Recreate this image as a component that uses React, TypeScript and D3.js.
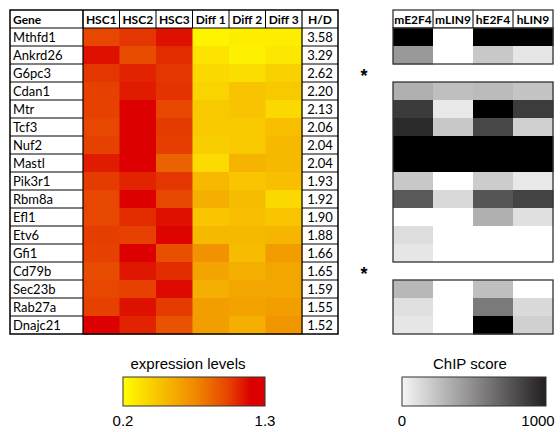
import React from "react";
import * as d3 from "d3";

const genes = ["Mthfd1","Ankrd26","G6pc3","Cdan1","Mtr","Tcf3","Nuf2","Mastl","Pik3r1","Rbm8a","Efl1","Etv6","Gfi1","Cd79b","Sec23b","Rab27a","Dnajc21"];
const exprCols = ["HSC1","HSC2","HSC3","Diff 1","Diff 2","Diff 3"];
const exprValues: number[][] = [
  [1.0, 1.05, 1.15, 0.25, 0.28, 0.28],
  [1.15, 0.98, 1.08, 0.33, 0.27, 0.31],
  [1.05, 1.1, 1.05, 0.38, 0.36, 0.42],
  [1.02, 1.12, 1.06, 0.4, 0.48, 0.45],
  [1.02, 1.3, 1.0, 0.45, 0.48, 0.38],
  [1.0, 1.25, 1.04, 0.45, 0.45, 0.5],
  [1.02, 1.27, 1.03, 0.43, 0.45, 0.53],
  [1.12, 1.3, 0.9, 0.37, 0.56, 0.53],
  [1.04, 1.1, 1.05, 0.53, 0.47, 0.5],
  [1.0, 1.3, 1.0, 0.58, 0.51, 0.38],
  [1.0, 1.08, 1.15, 0.47, 0.5, 0.47],
  [1.03, 1.02, 1.18, 0.53, 0.53, 0.55],
  [1.02, 1.2, 0.97, 0.72, 0.52, 0.67],
  [0.98, 1.13, 1.08, 0.63, 0.58, 0.62],
  [1.0, 1.02, 1.17, 0.58, 0.62, 0.62],
  [1.02, 1.15, 1.04, 0.66, 0.64, 0.66],
  [1.2, 1.1, 0.96, 0.66, 0.58, 0.7],
];
const hdRatios = ["3.58","3.29","2.62","2.20","2.13","2.06","2.04","2.04","1.93","1.92","1.90","1.88","1.66","1.65","1.59","1.55","1.52"];
const chipCols = ["mE2F4","mLIN9","hE2F4","hLIN9"];
const chipScores: (number[] | null)[] = [
  [1000, 0, 1000, 1000],
  [400, 0, 215, 100],
  null,
  [310, 250, 265, 230],
  [770, 90, 1000, 765],
  [835, 215, 720, 185],
  [1000, 1000, 1000, 1000],
  [1000, 1000, 1000, 1000],
  [215, 0, 200, 90],
  [650, 150, 665, 735],
  [0, 0, 310, 120],
  [135, 0, 0, 0],
  [100, 0, 0, 0],
  null,
  [280, 0, 250, 0],
  [120, 0, 520, 145],
  [100, 0, 1000, 185],
];
const exprDomain = [0.2, 1.3];
const chipDomain = [0, 1000];
const exprTickLabels = ["0.2", "1.3"];
const chipTickLabels = ["0", "1000"];

export default function App() {
  const tableFont = "Lato, 'Liberation Sans', sans-serif";
  const legendFont = "'Liberation Sans', Arial, sans-serif";
  const headerTop = 10, rowTop = 28, rowBottom = 334;
  const geneLeft = 10, geneRight = 83, heatRight = 302, hdRight = 338;
  const chipLeft = 393, chipRight = 553;

  const y = d3.scaleBand<string>().domain(genes).range([rowTop, rowBottom]);
  const x = d3.scaleBand<string>().domain(exprCols).range([geneRight, heatRight]);
  const xc = d3.scaleBand<string>().domain(chipCols).range([chipLeft, chipRight]);
  const [e0, e1] = exprDomain;
  const exprStops = [0, 0.25, 0.5, 0.75, 0.9, 1];
  const exprColors = ["#ffff00", "#f8c400", "#f08c00", "#e64000", "#dc0000", "#dc0000"];
  const exprColor = d3.scaleLinear<string>()
    .domain(exprStops.map((t) => e0 + t * (e1 - e0)))
    .range(exprColors)
    .clamp(true);
  const chipColor = d3.scaleLinear<string>().domain(chipDomain).range(["#ffffff", "#000000"]).clamp(true);

  const blocks: { start: number; end: number }[] = [];
  let cur: { start: number; end: number } | null = null;
  chipScores.forEach((r, i) => {
    if (r) {
      if (!cur) { cur = { start: i, end: i }; blocks.push(cur); } else cur.end = i;
    } else cur = null;
  });

  const bw = y.bandwidth();
  const legE = d3.scaleLinear().domain(exprDomain).range([123, 265]);
  const legC = d3.scaleLinear().domain(chipDomain).range([402, 546]);
  const hdrSize = 12;

  return (
    <div style={{ position: "absolute", left: 0, top: 0 }}>
      <svg width={560} height={432} style={{ display: "block", background: "#fff" }}>
        <defs>
          <linearGradient id="gE" x1="0" x2="1" y1="0" y2="0">
            {exprStops.map((t, i) => (
              <stop key={i} offset={t} stopColor={exprColors[i]} />
            ))}
          </linearGradient>
          <linearGradient id="gC" x1="0" x2="1" y1="0" y2="0">
            <stop offset={0} stopColor="#f6f6f6" />
            <stop offset={1} stopColor="#231f20" />
          </linearGradient>
        </defs>

        {genes.map((g, i) =>
          exprCols.map((c, j) => (
            <rect key={g + c} x={x(c)!} y={y(g)!} width={x.bandwidth() + 0.5} height={bw + 0.5}
              fill={exprColor(exprValues[i][j])} />
          ))
        )}

        <line x1={geneLeft} x2={hdRight} y1={rowTop} y2={rowTop} stroke="#000" strokeWidth={1} />
        <text x={geneLeft + 3} y={headerTop + 13.5} fontFamily={tableFont} fontWeight="bold" fontSize={hdrSize}>Gene</text>
        {exprCols.map((c) => (
          <g key={c}>
            <text x={x(c)! + x.bandwidth() / 2} y={headerTop + 13.5} textAnchor="middle"
              fontFamily={tableFont} fontWeight="bold" fontSize={hdrSize}>{c}</text>
            <line x1={x(c)!} x2={x(c)!} y1={headerTop} y2={rowTop} stroke="#000" strokeWidth={1} />
          </g>
        ))}
        <text x={(heatRight + hdRight) / 2} y={headerTop + 13.5} textAnchor="middle"
          fontFamily={tableFont} fontWeight="bold" fontSize={hdrSize}>H/D</text>

        {genes.map((g, i) => (
          <g key={g}>
            <text x={geneLeft + 3} y={y(g)! + 13.5} fontFamily={tableFont} fontSize={13}>{g}</text>
            <text x={(heatRight + hdRight) / 2} y={y(g)! + 13.5} textAnchor="middle" fontFamily={tableFont} fontSize={13}>{hdRatios[i]}</text>
            {i > 0 && (
              <>
                <line x1={geneLeft} x2={geneRight} y1={y(g)!} y2={y(g)!} stroke="#000" strokeWidth={1} />
                <line x1={heatRight} x2={hdRight} y1={y(g)!} y2={y(g)!} stroke="#000" strokeWidth={1} />
              </>
            )}
          </g>
        ))}
        <line x1={geneRight} x2={geneRight} y1={headerTop} y2={rowBottom} stroke="#000" strokeWidth={1.2} />
        <line x1={heatRight} x2={heatRight} y1={headerTop} y2={rowBottom} stroke="#000" strokeWidth={1.2} />
        <rect x={geneLeft} y={headerTop} width={hdRight - geneLeft} height={rowBottom - headerTop}
          fill="none" stroke="#000" strokeWidth={1.5} />

        {chipCols.map((c, j) => (
          <g key={c}>
            <text x={xc(c)! + xc.bandwidth() / 2} y={headerTop + 13.5} textAnchor="middle"
              fontFamily={tableFont} fontWeight="bold" fontSize={hdrSize}>{c}</text>
            {j > 0 && <line x1={xc(c)!} x2={xc(c)!} y1={headerTop} y2={rowTop} stroke="#000" strokeWidth={1} />}
          </g>
        ))}
        <rect x={chipLeft} y={headerTop} width={chipRight - chipLeft} height={rowTop - headerTop}
          fill="none" stroke="#333" strokeWidth={1.3} />

        {genes.map((g, i) => {
          const r = chipScores[i];
          if (!r) {
            return (
              <text key={g} x={364} y={y(g)! + 18} textAnchor="middle" fontFamily={legendFont} fontWeight="bold" fontSize={18}>*</text>
            );
          }
          return chipCols.map((c, j) => (
            <rect key={g + c} x={xc(c)!} y={y(g)!} width={xc.bandwidth() + 0.5} height={bw + 0.5}
              fill={chipColor(r[j])} />
          ));
        })}
        {blocks.map((b, k) => (
          <rect key={k} x={chipLeft} y={y(genes[b.start])!} width={chipRight - chipLeft}
            height={y(genes[b.end])! + bw - y(genes[b.start])!} fill="none" stroke="#333" strokeWidth={1.3} />
        ))}

        <text x={(legE(e0) + legE(e1)) / 2 - 6} y={369} textAnchor="middle" fontFamily={legendFont} fontSize={15}>expression levels</text>
        <rect x={legE(e0)} y={377} width={legE(e1) - legE(e0)} height={29} fill="url(#gE)" stroke="#333" strokeWidth={1} />
        {exprTickLabels.map((t, i) => (
          <text key={t} x={legE(exprDomain[i])} y={426} textAnchor="middle" fontFamily={legendFont} fontSize={15}>{t}</text>
        ))}

        <text x={(legC(0) + legC(1000)) / 2 - 4} y={369} textAnchor="middle" fontFamily={legendFont} fontSize={15}>ChIP score</text>
        <rect x={legC(0)} y={377} width={legC(1000) - legC(0)} height={29} fill="url(#gC)" stroke="#333" strokeWidth={1} />
        {chipTickLabels.map((t, i) => (
          <text key={t} x={i === 0 ? legC(chipDomain[0]) : legC(chipDomain[1]) - 8} y={426} textAnchor="middle" fontFamily={legendFont} fontSize={15}>{t}</text>
        ))}
      </svg>
    </div>
  );
}
